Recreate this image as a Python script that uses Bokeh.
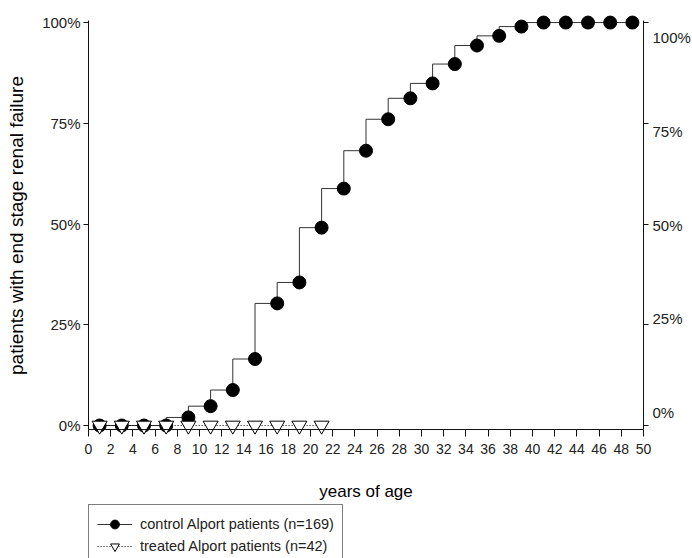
from bokeh.plotting import figure
from bokeh.layouts import column
from bokeh.models import Range1d, FixedTicker, LinearAxis, Legend, LegendItem, Span
from bokeh.embed import file_html
from bokeh.resources import INLINE

# ---- data ----
control_age = [1, 3, 5, 7, 9, 11, 13, 15, 17, 19, 21, 23, 25, 27, 29, 31, 33, 35, 37, 39, 41, 43, 45, 47, 49]
control_pct = [0, 0, 0, 0, 2.0, 4.8, 8.8, 16.5, 30.3, 35.5, 49.1, 58.8, 68.2, 76.0, 81.2, 84.9, 89.7, 94.3, 96.7, 99.0, 100, 100, 100, 100, 100]
treated_age = [1, 3, 5, 7, 9, 11, 13, 15, 17, 19, 21]
treated_pct = [0, 0, 0, 0, 0, 0, 0, 0, 0, 0, 0]

x_ticks = list(range(0, 51, 2))
y_ticks = [0, 25, 50, 75, 100]
y_tick_labels = ["0%", "25%", "50%", "75%", "100%"]
control_label = "control Alport patients (n=169)"
treated_label = "treated Alport patients (n=42)"
x_title = "years of age"
y_title = "patients with end stage renal failure"

FONT = "Liberation Sans"
AXIS_COLOR = "#111111"

CONTROL_LINE = dict(line_color="#333333", line_width=1)
CONTROL_MARK = dict(marker="circle", fill_color="black", line_color="black")
TREATED_LINE = dict(line_color="black", line_width=1, line_dash="1 2")
TREATED_MARK = dict(marker="inverted_triangle", fill_color="white", line_color="black", line_width=1)

p = figure(frame_width=555, frame_height=422, output_backend="svg", toolbar_location=None,
           x_range=Range1d(0, 50), y_range=Range1d(-2.73, 102),
           min_border_left=88, min_border_right=49, min_border_top=14, min_border_bottom=66)
p.outline_line_color = None
p.grid.visible = False
p.background_fill_color = "white"
p.border_fill_color = "white"

# bottom axis: line drawn at y = -1 (baseline), ticks reach up to it from frame bottom
xa = p.xaxis[0]
xa.ticker = FixedTicker(ticks=x_ticks)
xa.axis_label = x_title
xa.axis_line_color = None
xa.major_tick_line_color = AXIS_COLOR
xa.major_tick_in = 7
xa.major_tick_out = 0
xa.minor_tick_line_color = None
xa.major_label_text_font = FONT
xa.major_label_text_font_size = "14px"
xa.major_label_text_color = "#222222"
xa.major_label_standoff = 7
xa.axis_label_text_font = FONT
xa.axis_label_text_font_size = "17px"
xa.axis_label_text_font_style = "normal"
xa.axis_label_text_color = "#000000"
xa.axis_label_standoff = 25
p.add_layout(Span(location=-1, dimension="width", line_color=AXIS_COLOR, line_width=1))

# left axis
ya = p.yaxis[0]
ya.ticker = FixedTicker(ticks=y_ticks)
ya.major_label_overrides = {v: t for v, t in zip(y_ticks, y_tick_labels)}
ya.bounds = (-1, 100.5)
ya.axis_label = y_title
ya.axis_line_color = AXIS_COLOR
ya.major_tick_line_color = AXIS_COLOR
ya.minor_tick_line_color = None
ya.major_tick_in = 0
ya.major_tick_out = 5
ya.major_label_text_font = FONT
ya.major_label_text_font_size = "15px"
ya.major_label_text_color = "#222222"
ya.major_label_standoff = 3
ya.axis_label_text_font = FONT
ya.axis_label_text_font_size = "19px"
ya.axis_label_text_font_style = "normal"
ya.axis_label_text_color = "#000000"
ya.axis_label_standoff = 12

# right side: tick axis on main range + label axis on a shifted range
ra = LinearAxis(ticker=FixedTicker(ticks=y_ticks), bounds=(-1, 100.5),
                major_label_overrides={v: "" for v in y_ticks}, major_label_standoff=0,
                axis_line_color=AXIS_COLOR, major_tick_line_color=AXIS_COLOR,
                minor_tick_line_color=None, major_tick_in=0, major_tick_out=5)
p.add_layout(ra, "right")

p.extra_y_ranges = {"rlab": Range1d(-6.4, 106.15)}
rl = LinearAxis(y_range_name="rlab", ticker=FixedTicker(ticks=y_ticks),
                major_label_overrides={v: t for v, t in zip(y_ticks, y_tick_labels)},
                axis_line_color=None, major_tick_line_color=None, minor_tick_line_color=None,
                major_tick_in=0, major_tick_out=0, major_label_standoff=4,
                major_label_text_font=FONT, major_label_text_font_size="15px",
                major_label_text_color="#222222")
p.add_layout(rl, "right")

# series
p.step(control_age, control_pct, mode="before", **CONTROL_LINE)
p.scatter(control_age, control_pct, size=13, **CONTROL_MARK)
p.step(treated_age, treated_pct, mode="before", **TREATED_LINE)
p.scatter(treated_age, treated_pct, size=15, **TREATED_MARK)

# legend strip below the chart: a small canvas whose view range lies away from the
# series, so only the legend (with its sample glyphs) is visible there
lp = figure(width=692, height=56, output_backend="svg", toolbar_location=None,
            x_range=Range1d(-20, -10), y_range=Range1d(-20, -10),
            x_axis_location=None, y_axis_location=None, min_border=0)
lp.outline_line_color = None
lp.grid.visible = False
l1 = lp.step(control_age, control_pct, mode="before", **CONTROL_LINE)
l2 = lp.scatter(control_age, control_pct, size=13, **CONTROL_MARK)
l3 = lp.step(treated_age, treated_pct, mode="before", **TREATED_LINE)
l4 = lp.scatter(treated_age, treated_pct, size=15, **TREATED_MARK)

legend = Legend(items=[LegendItem(label=control_label, renderers=[l1, l2]),
                       LegendItem(label=treated_label, renderers=[l3, l4])],
                location=(0, -7), margin=0, padding=8, spacing=0,
                glyph_width=35, glyph_height=22, label_height=22, label_standoff=8,
                label_text_font=FONT, label_text_font_size="14.5px", label_text_color="#222222",
                border_line_color="black", border_line_width=1,
                background_fill_color="white", background_fill_alpha=1.0)
lp.add_layout(legend)

open("out.html", "w").write(file_html(column(p, lp, spacing=0), INLINE))
